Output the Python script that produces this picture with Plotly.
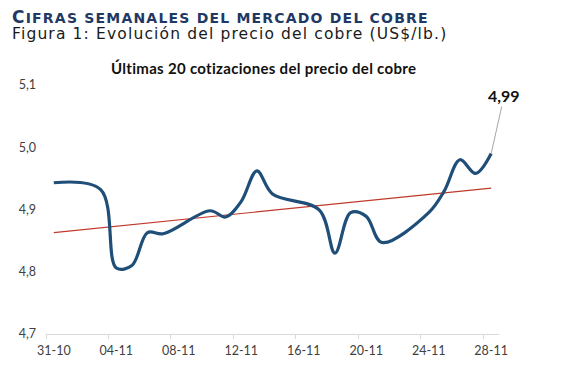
import numpy as np
import pandas as pd
import plotly.graph_objects as go

# ---- data ----
dates = ["2025-10-31", "2025-11-03", "2025-11-04", "2025-11-05", "2025-11-06",
         "2025-11-07", "2025-11-10", "2025-11-11", "2025-11-12", "2025-11-13",
         "2025-11-14", "2025-11-17", "2025-11-18", "2025-11-19", "2025-11-20",
         "2025-11-21", "2025-11-24", "2025-11-25", "2025-11-26", "2025-11-27",
         "2025-11-28"]
prices = [4.943, 4.932, 4.806, 4.810, 4.863,
          4.861, 4.898, 4.888, 4.913, 4.962,
          4.925, 4.899, 4.830, 4.895, 4.889,
          4.847, 4.895, 4.930, 4.980, 4.958,
          4.990]
x_tick_dates = ["2025-10-31", "2025-11-04", "2025-11-08", "2025-11-12",
                "2025-11-16", "2025-11-20", "2025-11-24", "2025-11-28"]
x_tick_labels = ["31-10", "04-11", "08-11", "12-11", "16-11", "20-11", "24-11", "28-11"]
y_ticks = [4.7, 4.8, 4.9, 5.0, 5.1]

header = "Cifras semanales del mercado del cobre"
subtitle = "Figura 1: Evolución del precio del cobre (US$/lb.)"
chart_title = "Últimas 20 cotizaciones del precio del cobre"
last_label = "4,99"

# ---- derived ----
dt = pd.to_datetime(dates)
days = (dt - dt[0]).days.values.astype(float)
slope, intercept = np.polyfit(days, np.array(prices), 1)
trend = intercept + slope * days

half = pd.Timedelta(hours=12)
tick_centers = pd.to_datetime(x_tick_dates)
tick_bounds = [(t - half).strftime("%Y-%m-%d %H:%M") for t in tick_centers]
x_range = [(dt[0] - half).strftime("%Y-%m-%d %H:%M"), (dt[-1] + half).strftime("%Y-%m-%d %H:%M")]

fig = go.Figure()
fig.add_trace(go.Scatter(
    x=[dt[0], dt[-1]], y=[trend[0], trend[-1]], mode="lines",
    line=dict(color="#C0392B", width=1.2), hoverinfo="skip", showlegend=False))
fig.add_trace(go.Scatter(
    x=dt, y=prices, mode="lines",
    line=dict(color="#1F4E79", width=3.2, shape="spline", smoothing=1.0),
    showlegend=False))

tick_font = dict(family="Lato, Open Sans, sans-serif", size=12.5, color="#404040")

head_html = (
    '<b><span style="font-size:17px;letter-spacing:1.2px;color:#1F3864">' + header[0].upper() + '</span>'
    '<span style="font-size:14px;letter-spacing:1.2px;color:#1F3864">' + header[1:].upper() + '</span></b>'
    '<br><span style="font-size:15.5px;letter-spacing:1.15px;color:#1a1a1a">' + subtitle + '</span>'
)

fig.update_layout(
    width=558, height=375,
    margin=dict(l=37.7, r=67.2, t=77, b=49),
    paper_bgcolor="white", plot_bgcolor="white",
    separators=",.",
    xaxis=dict(
        type="date", range=x_range,
        tickmode="array", tickvals=list(tick_centers), ticktext=x_tick_labels,
        ticks="", showgrid=False, zeroline=False,
        showline=True, linecolor="#D9D9D9", linewidth=1,
        tickfont=tick_font, ticklabelstandoff=5,
        minor=dict(tickmode="array", tickvals=tick_bounds, ticks="outside",
                   ticklen=4, tickcolor="#D9D9D9", tickwidth=1, showgrid=False),
    ),
    yaxis=dict(
        range=[4.6999, 5.1001], tickmode="array", tickvals=y_ticks,
        tickformat=".1f", showgrid=False, zeroline=False, showline=False,
        ticks="", tickfont=tick_font, ticklabelstandoff=9,
    ),
    annotations=[
        dict(xref="paper", yref="paper", x=-0.0788, y=1.241, xanchor="left", yanchor="middle",
             align="left", text=head_html, showarrow=False,
             font=dict(family="DejaVu Sans, Verdana, sans-serif", size=12, color="#1a1a1a")),
        dict(xref="paper", yref="paper", x=0.4807, y=1.068, xanchor="center", yanchor="middle",
             text='<span style="letter-spacing:0.3px">' + chart_title + '</span>', showarrow=False,
             font=dict(family="Lato, Open Sans, sans-serif", size=15, color="#111111", weight="bold")),
        dict(x=dt[-1], y=prices[-1], xref="x", yref="y", text=last_label,
             showarrow=True, arrowhead=0, arrowwidth=1, arrowcolor="#A6A6A6",
             ax=13, ay=-58, standoff=0,
             font=dict(family="Lato, Open Sans, sans-serif", size=16, color="#111111", weight="bold")),
    ],
)

fig.write_html("out.html")
